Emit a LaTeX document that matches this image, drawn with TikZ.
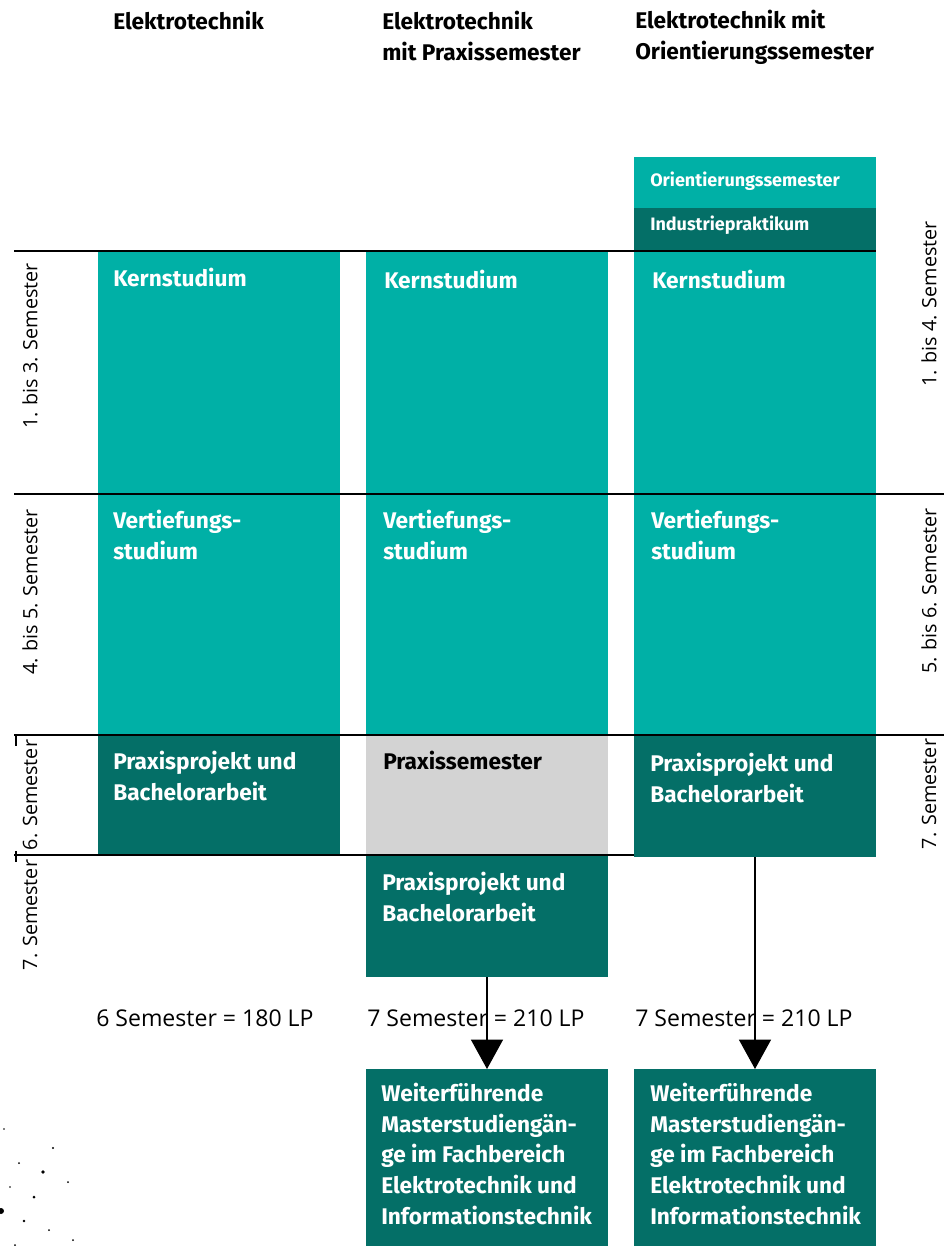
\documentclass[tikz,border=0pt]{standalone}
\usepackage{fontspec}
\setmainfont{Open Sans}
\newfontfamily\boxfont{Fira Sans}
\usetikzlibrary{arrows.meta}
\definecolor{tealL}{RGB}{0,176,166}
\definecolor{tealD}{RGB}{4,111,103}
\definecolor{greyP}{RGB}{211,211,211}
\begin{document}
\begin{tikzpicture}[x=0.75pt,y=-0.75pt,
  blk/.style={draw=none, inner sep=0pt, outer sep=0pt, minimum width=181.5pt, anchor=north west},
  txt/.style={anchor=north west, inner sep=0pt, align=left, font=\boxfont\bfseries\fontsize{17}{23}\selectfont, text=white},
  smalltxt/.style={anchor=north west, inner sep=0pt, align=left, font=\boxfont\bfseries\fontsize{13.5}{15}\selectfont, text=white},
  head/.style={anchor=north west, inner sep=0pt, align=left, font=\boxfont\bfseries\fontsize{17}{23.5}\selectfont, text=black},
  semlbl/.style={rotate=90, inner sep=0pt, font=\fontsize{14.8}{16}\selectfont},
  lplbl/.style={anchor=west, inner sep=0pt, font=\fontsize{17.3}{19}\selectfont},
  rule/.style={line width=1.6pt, black},
  tick/.style={line width=1pt, black},
  arr/.style={line width=0.8pt, -{Triangle[width=24pt,length=22pt]}},
  dot/.style={fill=black, draw=none}
]
\useasboundingbox (0,0) rectangle (944,1246);

% headers
\node[head] (h1) at (113,11) {Elektrotechnik};
\node[head] (h2) at (382,11) {Elektrotechnik\\mit Praxissemester};
\node[head] (h3) at (635,10) {Elektrotechnik mit\\Orientierungssemester};

% column 1
\node[blk, fill=tealL, minimum height=363pt] (c1k) at (98,251) {};
\node[blk, fill=tealD, minimum height=90pt] (c1p) at (98,735) {};
% column 2
\node[blk, fill=tealL, minimum height=363pt] (c2k) at (366,251) {};
\node[blk, fill=greyP, minimum height=90pt] (c2s) at (366,735) {};
\node[blk, fill=tealD, minimum height=91.5pt] (c2p) at (366,855) {};
\node[blk, fill=tealD, minimum height=132.75pt] (c2m) at (366,1069) {};
% column 3
\node[blk, fill=tealL, minimum height=38.25pt] (c3o) at (634,157) {};
\node[blk, fill=tealD, minimum height=32.25pt] (c3i) at (634,208) {};
\node[blk, fill=tealL, minimum height=363pt] (c3k) at (634,251) {};
\node[blk, fill=tealD, minimum height=91.5pt] (c3p) at (634,735) {};
\node[blk, fill=tealD, minimum height=132.75pt] (c3m) at (634,1069) {};

% rules
\coordinate (l1a) at (14,251); \coordinate (l1b) at (876,251);
\coordinate (l2a) at (14,494); \coordinate (l2b) at (944,494);
\coordinate (l3a) at (14,735); \coordinate (l3b) at (944,735);
\coordinate (l4a) at (14,855); \coordinate (l4b) at (634,855);
\draw[rule] (l1a) -- (l1b);
\draw[rule] (l2a) -- (l2b);
\draw[rule] (l3a) -- (l3b);
\draw[rule] (l4a) -- (l4b);
\coordinate (t1a) at (16,735); \coordinate (t1b) at (16,746);
\coordinate (t2a) at (16,851); \coordinate (t2b) at (16,862);
\draw[tick] (t1a) -- (t1b);
\draw[tick] (t2a) -- (t2b);

% box texts
\node[smalltxt] (t3o) at (650,172) {Orientierungssemester};
\node[smalltxt] (t3i) at (650,216) {Industriepraktikum};

\node[txt] (t1k) at (113,268) {Kernstudium};
\node[txt] (t2k) at (384,270) {Kernstudium};
\node[txt] (t3k) at (652,270) {Kernstudium};

\node[txt] (t1v) at (113,510) {Vertiefungs-\\studium};
\node[txt] (t2v) at (383,510) {Vertiefungs-\\studium};
\node[txt] (t3v) at (651,510) {Vertiefungs-\\studium};

\node[txt] (t1p) at (113,751) {Praxisprojekt und\\Bachelorarbeit};
\node[txt, text=black] (t2s) at (383,751) {Praxissemester};
\node[txt] (t3p) at (650,753) {Praxisprojekt und\\Bachelorarbeit};
\node[txt] (t2p) at (382,872) {Praxisprojekt und\\Bachelorarbeit};

\node[txt] (t2m) at (381,1083) {Weiterführende\\Masterstudiengän-\\ge im Fachbereich\\Elektrotechnik und\\Informationstechnik};
\node[txt] (t3m) at (650,1083) {Weiterführende\\Masterstudiengän-\\ge im Fachbereich\\Elektrotechnik und\\Informationstechnik};

% semester labels
\node[semlbl] (s1) at (30,346) {1. bis 3. Semester};
\node[semlbl] (s2) at (30,592) {4. bis 5. Semester};
\node[semlbl] (s3) at (30,795) {6. Semester};
\node[semlbl] (s4) at (30,915) {7. Semester};
\node[semlbl] (r1) at (929,304) {1. bis 4. Semester};
\node[semlbl] (r2) at (929,591) {5. bis 6. Semester};
\node[semlbl] (r3) at (929,794) {7. Semester};

% LP labels
\node[lplbl] (lp1) at (96,1018) {6 Semester = 180 LP};
\node[lplbl] (lp2) at (367,1018) {7 Semester = 210 LP};
\node[lplbl] (lp3) at (635,1018) {7 Semester = 210 LP};

% arrows
\draw[arr] (c2p.south) -- (c2m.north);
\draw[arr] (c3p.south) -- (c3m.north);

% decorative dots
\foreach \x/\y/\r in {4/1129/0.8, 53/1148/1.2, 19/1163/1, 43/1172/1.8, 68/1182/1, 10/1187/0.8, 34/1197/1.5, 1/1211/3, 24/1221/1.3, 49/1230/1, 73/1240/1, 15/1245/1}
  \fill[dot] (\x,\y) circle[radius=\r*0.75pt];
\end{tikzpicture}
\end{document}
